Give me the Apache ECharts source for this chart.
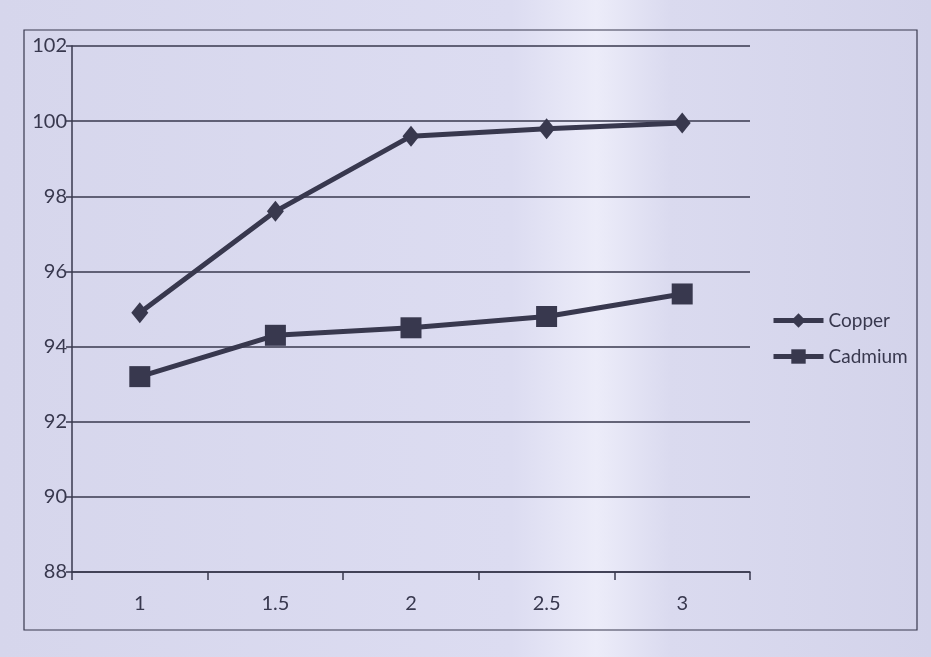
<!DOCTYPE html>
<html>
<head>
<meta charset="utf-8">
<script src="https://cdn.jsdelivr.net/npm/echarts@6/dist/echarts.min.js"></script>
<style>
  html, body { margin: 0; padding: 0; background: #d8d8ee; }
  #chart { width: 931px; height: 657px; }
</style>
</head>
<body>
<div id="chart"></div>
<script>
// Concentration categories along the x axis
const categories = ['1', '1.5', '2', '2.5', '3'];
// Removal values (%) for each metal
const copper = [94.9, 97.6, 99.6, 99.8, 99.95];
const cadmium = [93.2, 94.3, 94.5, 94.8, 95.4];
// Value axis range
const yMin = 88, yMax = 102, yStep = 2;

const ink = '#38384e';
const font = 'Lato, sans-serif';

const chart = echarts.init(document.getElementById('chart'));
chart.setOption({
  backgroundColor: {
    type: 'linear', x: 0, y: 0, x2: 1, y2: 0,
    colorStops: [
      { offset: 0, color: '#d6d6ec' },
      { offset: 0.55, color: '#dcdcf1' },
      { offset: 0.64, color: '#ececf9' },
      { offset: 0.72, color: '#dadaef' },
      { offset: 1, color: '#d3d3ea' }
    ]
  },
  animation: false,
  graphic: [{
    type: 'rect',
    shape: { x: 24, y: 30, width: 893, height: 600 },
    style: { fill: 'none', stroke: ink, lineWidth: 1.2 },
    silent: true
  }],
  grid: { left: 72, right: 181, top: 46, bottom: 85 },
  legend: {
    orient: 'vertical',
    left: 766,
    top: 306,
    itemWidth: 50,
    itemHeight: 18,
    itemGap: 17,
    itemStyle: {},
    lineStyle: { width: 5 },
    textStyle: { color: ink, fontSize: 19, fontFamily: font },
    data: ['Copper', 'Cadmium']
  },
  xAxis: {
    type: 'category',
    data: categories,
    boundaryGap: true,
    axisLine: { lineStyle: { color: ink, width: 1.5 } },
    axisTick: { show: true, length: 8, lineStyle: { color: ink, width: 1.5 } },
    axisLabel: { color: ink, fontSize: 20, fontFamily: font, margin: 22 },
    splitLine: { show: false }
  },
  yAxis: {
    type: 'value',
    min: yMin, max: yMax, interval: yStep,
    axisLine: { show: true, lineStyle: { color: ink, width: 1.5 } },
    axisTick: { show: true, length: 6, lineStyle: { color: ink, width: 1.5 } },
    axisLabel: { color: ink, fontSize: 20, fontFamily: font, margin: 5 },
    splitLine: { show: true, lineStyle: { color: ink, width: 1.5 } }
  },
  series: [
    {
      name: 'Copper',
      type: 'line',
      data: copper,
      symbol: 'diamond',
      symbolSize: [17, 21],
      itemStyle: { color: ink },
      lineStyle: { color: ink, width: 5 }
    },
    {
      name: 'Cadmium',
      type: 'line',
      data: cadmium,
      symbol: 'rect',
      symbolSize: 21,
      itemStyle: { color: ink },
      lineStyle: { color: ink, width: 5 }
    }
  ]
});
</script>
</body>
</html>
